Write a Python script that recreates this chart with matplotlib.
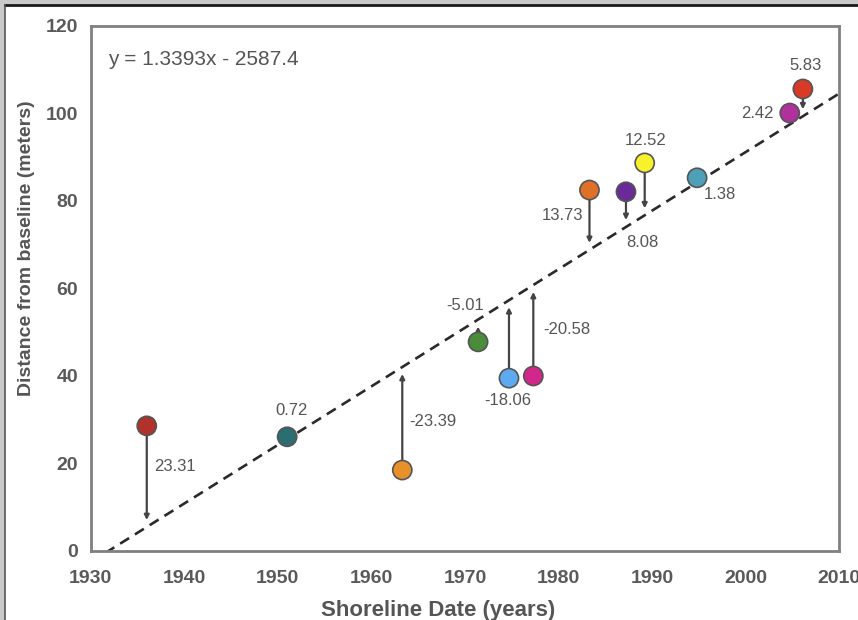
import matplotlib.pyplot as plt
from matplotlib.patches import Rectangle
from matplotlib.lines import Line2D

plt.rcParams['font.family'] = ['Liberation Sans', 'DejaVu Sans']

# shoreline positions
years = [1936.0, 1951.0, 1963.3, 1971.4, 1974.7, 1977.3, 1983.3, 1987.2, 1989.2, 1994.8, 2004.7, 2006.1]
distance = [28.6, 26.1, 18.5, 47.8, 39.5, 40.0, 82.5, 82.1, 88.7, 85.3, 100.1, 105.6]
residual_labels = ['23.31', '0.72', '-23.39', '-5.01', '-18.06', '-20.58',
                   '13.73', '8.08', '12.52', '1.38', '2.42', '5.83']
colors = ['#b0322a', '#2b6e72', '#e8912a', '#4a8c3a', '#5eaaf0', '#d3268a',
          '#e07028', '#6a2a9a', '#f8f22a', '#4e9fb8', '#b0309e', '#d83a26']

# regression line from the equation
slope = 1.3393
intercept = -2587.4

# label offsets (pixels from marker centre)
label_offsets = [(28, -41), (4, 26), (31, 49), (-13, 36), (-1, -22), (33, 46),
                 (-27, -25), (16, -51), (1, 22), (23, -17), (-32, 0), (3, 23)]

fig = plt.figure(figsize=(8.58, 6.2), dpi=100)

# outer frame of the screenshot
fig.patches.append(Rectangle((0, 0), 1, 1, transform=fig.transFigure,
                             facecolor='#c9c9c9', edgecolor='none', zorder=-10))
fig.patches.append(Rectangle((5 / 858, 0), 1, 1 - 6 / 620, transform=fig.transFigure,
                             facecolor='white', edgecolor='none', zorder=-9))
fig.lines.append(Line2D([5 / 858, 1], [1 - 5 / 620, 1 - 5 / 620], transform=fig.transFigure,
                        color='#1a1a1a', lw=2))
fig.lines.append(Line2D([4.5 / 858, 4.5 / 858], [0, 1 - 5 / 620], transform=fig.transFigure,
                        color='#555555', lw=1.2))

ax = fig.add_axes([0.1056, 0.1113, 0.8727, 0.8468])

# dashed trend line
line_x = [1930, 2010]
line_y = [slope * x + intercept for x in line_x]
ax.plot(line_x, line_y, ls=(0, (4, 2.6)), color='#2a2a2a', lw=1.9, zorder=2)

# residual arrows
for x, y in zip(years, distance):
    target = slope * x + intercept
    ax.annotate('', xy=(x, target), xytext=(x, y),
                arrowprops=dict(arrowstyle='-|>', color='#444444', lw=1.6,
                                mutation_scale=7, shrinkA=0, shrinkB=5),
                zorder=3)

ax.scatter(years, distance, s=190, c=colors, edgecolors='#555555', linewidths=1.2, zorder=4)

for x, y, lab, (dx, dy) in zip(years, distance, residual_labels, label_offsets):
    ax.annotate(lab, xy=(x, y), xytext=(dx, dy), textcoords='offset pixels',
                ha='center', va='center', fontsize=12, color='#555555')

ax.text(0.023, 0.937, 'y = 1.3393x - 2587.4', transform=ax.transAxes,
        ha='left', va='center', fontsize=15, color='#555555')

ax.set_xlim(1930, 2010)
ax.set_ylim(0, 120)
ax.set_xticks(range(1930, 2011, 10))
ax.set_yticks(range(0, 121, 20))
ax.tick_params(length=0, labelsize=14, labelcolor='#5a5a5a')
ax.tick_params(axis='x', pad=14)
ax.tick_params(axis='y', pad=9)
for t in ax.get_xticklabels() + ax.get_yticklabels():
    t.set_fontweight('bold')
for s in ax.spines.values():
    s.set_color('#808080')
    s.set_linewidth(2)

ax.set_xlabel('Shoreline Date (years)', fontsize=16, fontweight='bold', color='#555555')
ax.xaxis.set_label_coords(0.464, -0.093)
ax.set_ylabel('Distance from baseline (meters)', fontsize=14, fontweight='bold', color='#555555')
ax.yaxis.set_label_coords(-0.074, 0.577)

fig.savefig('out.png', dpi=100)
